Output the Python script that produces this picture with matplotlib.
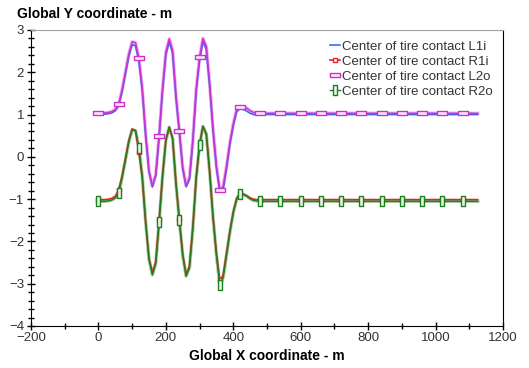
import numpy as np
import matplotlib
matplotlib.use("Agg")
import matplotlib.pyplot as plt
from matplotlib.path import Path

plt.rcParams['font.family'] = ['Liberation Sans', 'DejaVu Sans']

# Sample positions along the road (m)
x = [0, 10, 20, 30, 40, 50, 60, 70, 80, 90, 100, 110, 120, 130, 140, 150, 160,
     170, 180, 190, 200, 210, 220, 230, 240, 250, 260, 270, 280, 290, 300, 310,
     320, 330, 340, 350, 360, 370, 380, 390, 400, 410, 420, 430, 440, 450, 460,
     470, 480, 540, 600, 660, 720, 780, 840, 900, 960, 1020, 1080, 1125]

# Lateral position of each tire contact point (m)
l1i = [1.01, 1.01, 1.01, 1.02, 1.04, 1.09, 1.20, 1.53, 1.95, 2.37, 2.65, 2.63,
       2.27, 1.57, 0.51, -0.36, -0.71, -0.45, 0.45, 1.55, 2.41, 2.72, 2.45,
       1.40, 0.57, -0.28, -0.71, -0.53, 0.35, 1.54, 2.29, 2.73, 2.54, 1.67,
       0.61, -0.26, -0.83, -0.78, -0.28, 0.30, 0.74, 1.07, 1.14, 1.12, 1.08,
       1.03, 1.00, 0.99, 1.00, 1.00, 1.00, 1.00, 1.00, 1.00, 1.00, 1.00, 1.00,
       1.00, 1.00, 1.00]
r1i = [-1.01, -1.01, -1.01, -1.00, -0.98, -0.93, -0.78, -0.46, -0.04, 0.38,
       0.66, 0.62, 0.12, -0.50, -1.55, -2.40, -2.74, -2.48, -1.50, -0.45, 0.40,
       0.70, 0.44, -0.62, -1.48, -2.30, -2.78, -2.58, -1.66, -0.48, 0.30, 0.72,
       0.54, -0.36, -1.42, -2.28, -2.92, -2.80, -2.27, -1.75, -1.30, -0.98,
       -0.86, -0.88, -0.92, -0.97, -1.00, -1.01, -1.01, -1.01, -1.01, -1.01,
       -1.01, -1.01, -1.01, -1.01, -1.01, -1.01, -1.01, -1.01]
l2o = [1.04, 1.04, 1.04, 1.05, 1.07, 1.12, 1.24, 1.58, 2.00, 2.43, 2.72, 2.70,
       2.33, 1.62, 0.55, -0.33, -0.69, -0.42, 0.50, 1.60, 2.47, 2.79, 2.52,
       1.45, 0.62, -0.25, -0.68, -0.50, 0.40, 1.60, 2.35, 2.80, 2.61, 1.72,
       0.65, -0.22, -0.78, -0.70, -0.22, 0.34, 0.78, 1.12, 1.19, 1.17, 1.15,
       1.09, 1.05, 1.04, 1.03, 1.03, 1.03, 1.03, 1.03, 1.03, 1.03, 1.03, 1.03,
       1.03, 1.03, 1.03]
r2o = [-1.05, -1.05, -1.05, -1.04, -1.02, -0.97, -0.85, -0.50, -0.08, 0.35,
       0.64, 0.62, 0.22, -0.46, -1.53, -2.42, -2.79, -2.52, -1.55, -0.48, 0.39,
       0.70, 0.44, -0.63, -1.50, -2.33, -2.82, -2.62, -1.70, -0.50, 0.28, 0.72,
       0.54, -0.36, -1.44, -2.32, -3.02, -2.85, -2.32, -1.78, -1.32, -1.00,
       -0.87, -0.89, -0.93, -0.99, -1.03, -1.04, -1.05, -1.05, -1.05, -1.05,
       -1.05, -1.05, -1.05, -1.05, -1.05, -1.05, -1.05, -1.05]

labels = ['Center of tire contact L1i', 'Center of tire contact R1i',
          'Center of tire contact L2o', 'Center of tire contact R2o']

# markers every 60 m
marks = [i for i, v in enumerate(x) if v % 60 == 0]

wide = Path([(-1, -0.42), (1, -0.42), (1, 0.42), (-1, 0.42), (-1, -0.42)],
            [Path.MOVETO, Path.LINETO, Path.LINETO, Path.LINETO, Path.CLOSEPOLY])
tall = Path([(-0.45, -1), (0.45, -1), (0.45, 1), (-0.45, 1), (-0.45, -1)],
            [Path.MOVETO, Path.LINETO, Path.LINETO, Path.LINETO, Path.CLOSEPOLY])

fig = plt.figure(figsize=(5.29, 3.68), dpi=100)
ax = fig.add_axes([31/529, 1 - 326/368, 472/529, 296/368])

ax.plot(x, l1i, color='#3b6cf0', lw=1.2, label=labels[0], zorder=3)
ax.plot(x, r1i, color='#f02020', lw=1.2, marker='s', ms=3.2, mfc='white',
        mec='#f02020', mew=1.0, markevery=marks, label=labels[1], zorder=3)
# L2o: light halo + magenta core
ax.plot(x, l2o, color='#eea0ee', lw=2.4, zorder=2)
ax.plot(x, l2o, color='#d030d0', lw=1.0, marker=wide, ms=6.5, mfc='#fbeafb',
        mec='#d030d0', mew=1.0, markevery=marks, label=labels[2], zorder=4)
# R2o: light halo + green core
ax.plot(x, r2o, color='#9cc89c', lw=2.4, zorder=2)
ax.plot(x, r2o, color='#1f7f1f', lw=1.0, marker=tall, ms=7, mfc='#eaf4ea',
        mec='#1f7f1f', mew=1.0, markevery=marks, label=labels[3], zorder=4)

ax.set_xlim(-200, 1200)
ax.set_ylim(-4, 3)
ax.set_xticks([-200, 0, 200, 400, 600, 800, 1000, 1200])
ax.set_xticks([-100, 100, 300, 500, 700, 900, 1100], minor=True)
ax.set_yticks([-4, -3, -2, -1, 0, 1, 2, 3])
ax.set_yticks([v / 5 for v in range(-20, 15) if v % 5 != 0], minor=True)

ax.tick_params(which='major', direction='inout', length=6, width=1,
               labelsize=9.5, labelcolor='#333333', pad=1)
ax.tick_params(which='minor', direction='inout', length=5, width=1)
ax.tick_params(axis='y', which='major', pad=2)

ax.spines['top'].set_color('#a0a0a0')
for s in ['left', 'bottom', 'right']:
    ax.spines[s].set_color('black')

ax.set_xlabel('Global X coordinate - m', fontsize=10, fontweight='bold', labelpad=4)
fig.text(17/529, 1 - 14/368, 'Global Y coordinate - m', fontsize=10,
         fontweight='bold', va='center', ha='left')

leg = ax.legend(loc='upper right', bbox_to_anchor=(0.977, 0.964), frameon=False,
                fontsize=9.5, handlelength=0.7, handletextpad=0.15,
                labelspacing=0.2, borderaxespad=0.0, borderpad=0.0)
for t in leg.get_texts():
    t.set_color('#333333')

fig.savefig('out.png', dpi=100)
